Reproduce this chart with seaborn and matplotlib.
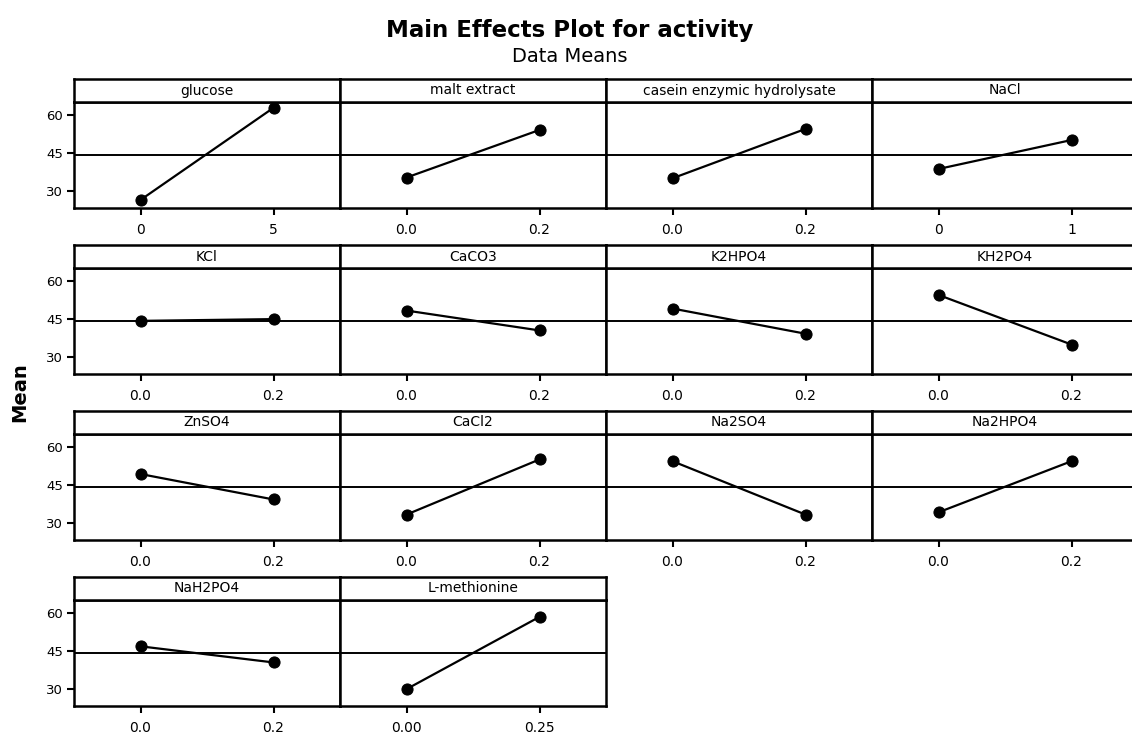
import numpy as np
import pandas as pd
import matplotlib
matplotlib.use("Agg")
import matplotlib.pyplot as plt
import seaborn as sns

# ---------------- data ----------------
factors = ["glucose", "malt extract", "casein enzymic hydrolysate", "NaCl",
           "KCl", "CaCO3", "K2HPO4", "KH2PO4",
           "ZnSO4", "CaCl2", "Na2SO4", "Na2HPO4",
           "NaH2PO4", "L-methionine"]
low_levels = [0, 0.0, 0.0, 0, 0.0, 0.0, 0.0, 0.0, 0.0, 0.0, 0.0, 0.0, 0.0, 0.00]
high_levels = [5, 0.2, 0.2, 1, 0.2, 0.2, 0.2, 0.2, 0.2, 0.2, 0.2, 0.2, 0.2, 0.25]
low_labels = ["0", "0.0", "0.0", "0", "0.0", "0.0", "0.0", "0.0",
              "0.0", "0.0", "0.0", "0.0", "0.0", "0.00"]
high_labels = ["5", "0.2", "0.2", "1", "0.2", "0.2", "0.2", "0.2",
               "0.2", "0.2", "0.2", "0.2", "0.2", "0.25"]
mean_low = [26.4, 35.3, 35.0, 38.7, 44.3, 48.4, 49.2, 54.6,
            49.4, 33.3, 54.5, 34.2, 46.9, 29.9]
mean_high = [63.0, 54.2, 54.6, 50.2, 45.0, 40.5, 39.2, 34.9,
             39.3, 55.2, 33.3, 54.5, 40.5, 58.6]
grand_mean = 44.1
y_ticks = [30, 45, 60]

records = []
for f, lo, hi, ml, mh in zip(factors, low_levels, high_levels, mean_low, mean_high):
    records.append({"factor": f, "level": lo, "mean": ml})
    records.append({"factor": f, "level": hi, "mean": mh})
df = pd.DataFrame(records)

# ---------------- style ----------------
sns.set_theme(style="ticks")
plt.rcParams["font.family"] = ["DejaVu Sans"]
plt.rcParams["axes.edgecolor"] = "black"
plt.rcParams["text.color"] = "black"
plt.rcParams["xtick.color"] = "black"
plt.rcParams["ytick.color"] = "black"
plt.rcParams["xtick.labelcolor"] = "black"
plt.rcParams["ytick.labelcolor"] = "black"

W, H = 1132, 741
fig = plt.figure(figsize=(W / 100, H / 100), dpi=100)

left0 = 74
pw = 266
row_top0 = 79
row_pitch = 166
strip_h = 23
plot_h = 106
frame_lw = 1.8

for i, f in enumerate(factors):
    r, c = divmod(i, 4)
    x0 = left0 + c * pw
    strip_top = row_top0 + r * row_pitch
    plot_top = strip_top + strip_h
    plot_bot = plot_top + plot_h
    ax = fig.add_axes([x0 / W, 1 - plot_bot / H, pw / W, plot_h / H])
    sub = df[df["factor"] == f]
    ax.axhline(grand_mean, color="black", lw=1.4, zorder=1)
    sns.lineplot(data=sub, x="level", y="mean", ax=ax, color="black",
                 marker="o", markersize=8, markeredgecolor="black",
                 linewidth=1.6, zorder=3)
    lo, hi = low_levels[i], high_levels[i]
    d = hi - lo
    ax.set_xlim(lo - d / 2, hi + d / 2)
    ax.set_xticks([lo, hi])
    ax.set_xticklabels([low_labels[i], high_labels[i]], fontsize=10)
    ax.set_ylim(23.2, 65.3)
    ax.set_yticks(y_ticks)
    if c == 0:
        ax.set_yticklabels([str(v) for v in y_ticks], fontsize=9.5)
        ax.tick_params(axis="y", length=5, width=1.5, pad=3)
    else:
        ax.tick_params(axis="y", length=0, labelleft=False)
    ax.tick_params(axis="x", length=5, width=1.5, pad=6)
    ax.set_xlabel("")
    ax.set_ylabel("")
    for s in ax.spines.values():
        s.set_visible(True)
        s.set_linewidth(frame_lw)
        s.set_color("black")

    sax = fig.add_axes([x0 / W, 1 - plot_top / H, pw / W, strip_h / H])
    sax.set_xticks([])
    sax.set_yticks([])
    for s in sax.spines.values():
        s.set_visible(True)
        s.set_linewidth(frame_lw)
        s.set_color("black")
    sax.text(0.5, 0.5, f, ha="center", va="center", fontsize=10,
             color="black", transform=sax.transAxes)

fig.text(570 / W, 1 - 31 / H, "Main Effects Plot for activity",
         ha="center", va="center", fontsize=16.5, fontweight="bold")
fig.text(570 / W, 1 - 57 / H, "Data Means", ha="center", va="center",
         fontsize=14)
fig.text(20 / W, 1 - 392 / H, "Mean", ha="center", va="center",
         fontsize=14, fontweight="bold", rotation=90)

fig.savefig("out.png", dpi=100)
